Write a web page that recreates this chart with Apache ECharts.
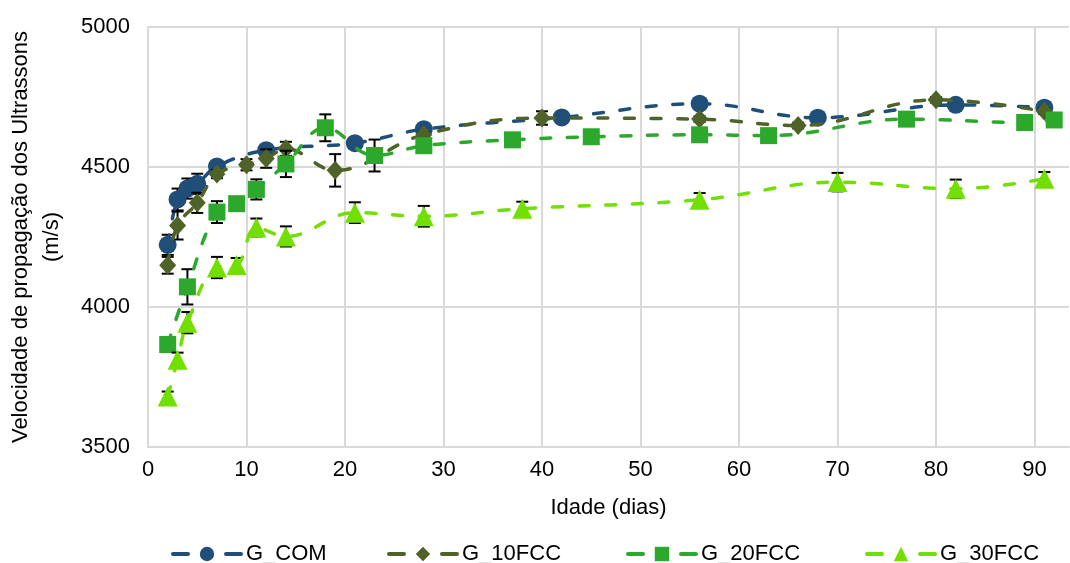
<!DOCTYPE html>
<html><head><meta charset="utf-8">
<script src="https://cdn.jsdelivr.net/npm/echarts@6/dist/echarts.min.js"></script>
<style>html,body{margin:0;padding:0;background:#fff}#c{width:1070px;height:563px}</style>
</head><body><div id="c"></div>
<script>
// ---- data ----
const seriesNames = ['G_COM', 'G_10FCC', 'G_20FCC', 'G_30FCC'];
const comDays = [2, 3, 4, 5, 7, 12, 21, 28, 42, 56, 68, 82, 91];
const comVals = [4222, 4384, 4423, 4440, 4502, 4560, 4585, 4635, 4677, 4726, 4676, 4722, 4712];
const comErr  = [36, 39, 36, 36, 10, 10, 10, 10, 10, 10, 10, 10, 10];
const fcc10Days = [2, 3, 5, 7, 10, 12, 14, 19, 28, 40, 56, 66, 80, 91];
const fcc10Vals = [4149, 4291, 4372, 4475, 4508, 4530, 4565, 4488, 4615, 4675, 4671, 4648, 4740, 4699];
const fcc10Err  = [30, 50, 36, 15, 20, 33, 25, 58, 10, 24, 10, 10, 10, 10];
const fcc20Days = [2, 4, 7, 9, 11, 14, 18, 23, 28, 37, 45, 56, 63, 77, 89, 92];
const fcc20Vals = [3866, 4072, 4339, 4369, 4420, 4511, 4640, 4541, 4576, 4597, 4608, 4615, 4612, 4671, 4659, 4668];
const fcc20Err  = [10, 63, 39, 10, 36, 47, 48, 57, 10, 10, 10, 10, 10, 10, 10, 10];
const fcc30Days = [2, 3, 4, 7, 9, 11, 14, 21, 28, 38, 56, 70, 82, 91];
const fcc30Vals = [3680, 3812, 3944, 4141, 4150, 4284, 4252, 4337, 4324, 4351, 4383, 4446, 4422, 4458];
const fcc30Err  = [18, 25, 38, 38, 25, 32, 36, 37, 37, 25, 24, 33, 33, 24];
const xTicks = [0, 10, 20, 30, 40, 50, 60, 70, 80, 90];
const yTicks = [3500, 4000, 4500, 5000];

// ---- styling ----
const colors = ['#1F4E79', '#4F6228', '#2CA82C', '#71E000'];
const symbols = ['circle', 'diamond', 'rect', 'triangle'];
const symSizes = [18, [17, 19], 17, 20];
const legendLeft = [166, 382, 621, 860];
const FONT = 'Liberation Sans, Arial, sans-serif';

const groups = [
  [comDays, comVals, comErr],
  [fcc10Days, fcc10Vals, fcc10Err],
  [fcc20Days, fcc20Vals, fcc20Err],
  [fcc30Days, fcc30Vals, fcc30Err]
];

const series = [];
groups.forEach((g, i) => {
  const [d, v, e] = g;
  series.push({
    type: 'custom',
    name: seriesNames[i] + '_err',
    z: 2 + i * 2,
    silent: true,
    data: d.map((x, k) => [x, v[k], e[k]]),
    encode: { x: 0, y: 1 },
    renderItem: function (params, api) {
      const x = api.value(0), y = api.value(1), er = api.value(2);
      const top = api.coord([x, y + er]);
      const bot = api.coord([x, y - er]);
      const hw = 6;
      const st = { stroke: '#000', lineWidth: 2 };
      return {
        type: 'group',
        children: [
          { type: 'line', shape: { x1: top[0], y1: top[1], x2: bot[0], y2: bot[1] }, style: st },
          { type: 'line', shape: { x1: top[0] - hw, y1: top[1], x2: top[0] + hw, y2: top[1] }, style: st },
          { type: 'line', shape: { x1: bot[0] - hw, y1: bot[1], x2: bot[0] + hw, y2: bot[1] }, style: st }
        ]
      };
    }
  });
  series.push({
    type: 'line',
    name: seriesNames[i],
    z: 3 + i * 2,
    data: d.map((x, k) => [x, v[k]]),
    smooth: 0.4,
    symbol: symbols[i],
    symbolSize: symSizes[i],
    showAllSymbol: true,
    itemStyle: { color: colors[i] },
    lineStyle: { color: colors[i], width: 3.5, type: [10, 16.7], cap: 'round' },
    emphasis: { disabled: true },
    animation: false
  });
});

const gridColors = xTicks.map(() => '#D9D9D9').concat(['rgba(0,0,0,0)']);

const chart = echarts.init(document.getElementById('c'), null, { renderer: 'canvas' });
chart.setOption({
  animation: false,
  textStyle: { fontFamily: FONT },
  grid: { left: 148, right: 1, top: 27, bottom: 116, containLabel: false, outerBoundsMode: 'none' },
  legend: seriesNames.map((n, i) => ({
    data: [n],
    left: legendLeft[i],
    top: 536,
    itemWidth: 68,
    itemHeight: 18,
    itemGap: 8,
    selectedMode: false,
    textStyle: { fontSize: 22, color: '#000', fontFamily: FONT, lineHeight: 26 },
    lineStyle: { width: 4, type: [15, 38, 15, 100], cap: 'round' }
  })),
  xAxis: {
    type: 'value', min: 0, max: 93.5, interval: 10,
    name: 'Idade (dias)', nameLocation: 'middle', nameGap: 50,
    nameTextStyle: { fontSize: 22, color: '#000', fontFamily: FONT },
    axisLine: { show: true, lineStyle: { color: '#D9D9D9', width: 2 } },
    axisTick: { show: false },
    axisLabel: {
      fontSize: 22, color: '#000', margin: 12, fontFamily: FONT,
      formatter: v => (xTicks.indexOf(v) >= 0 ? String(v) : '')
    },
    splitLine: { show: true, lineStyle: { color: gridColors, width: 2 } }
  },
  yAxis: {
    type: 'value', min: 3500, max: 5000, interval: 500,
    name: 'Velocidade de propagação dos Ultrassons\n(m/s)',
    nameLocation: 'middle', nameGap: 81,
    nameTextStyle: { fontSize: 22, color: '#000', fontFamily: FONT, lineHeight: 31, align: 'center' },
    axisLine: { show: true, lineStyle: { color: '#D9D9D9', width: 2 } },
    axisTick: { show: false },
    axisLabel: {
      fontSize: 22, color: '#000', margin: 18, fontFamily: FONT,
      formatter: v => (yTicks.indexOf(v) >= 0 ? String(v) : '')
    },
    splitLine: { show: true, lineStyle: { color: '#D9D9D9', width: 2 } }
  },
  series: series
});
</script>
</body></html>
